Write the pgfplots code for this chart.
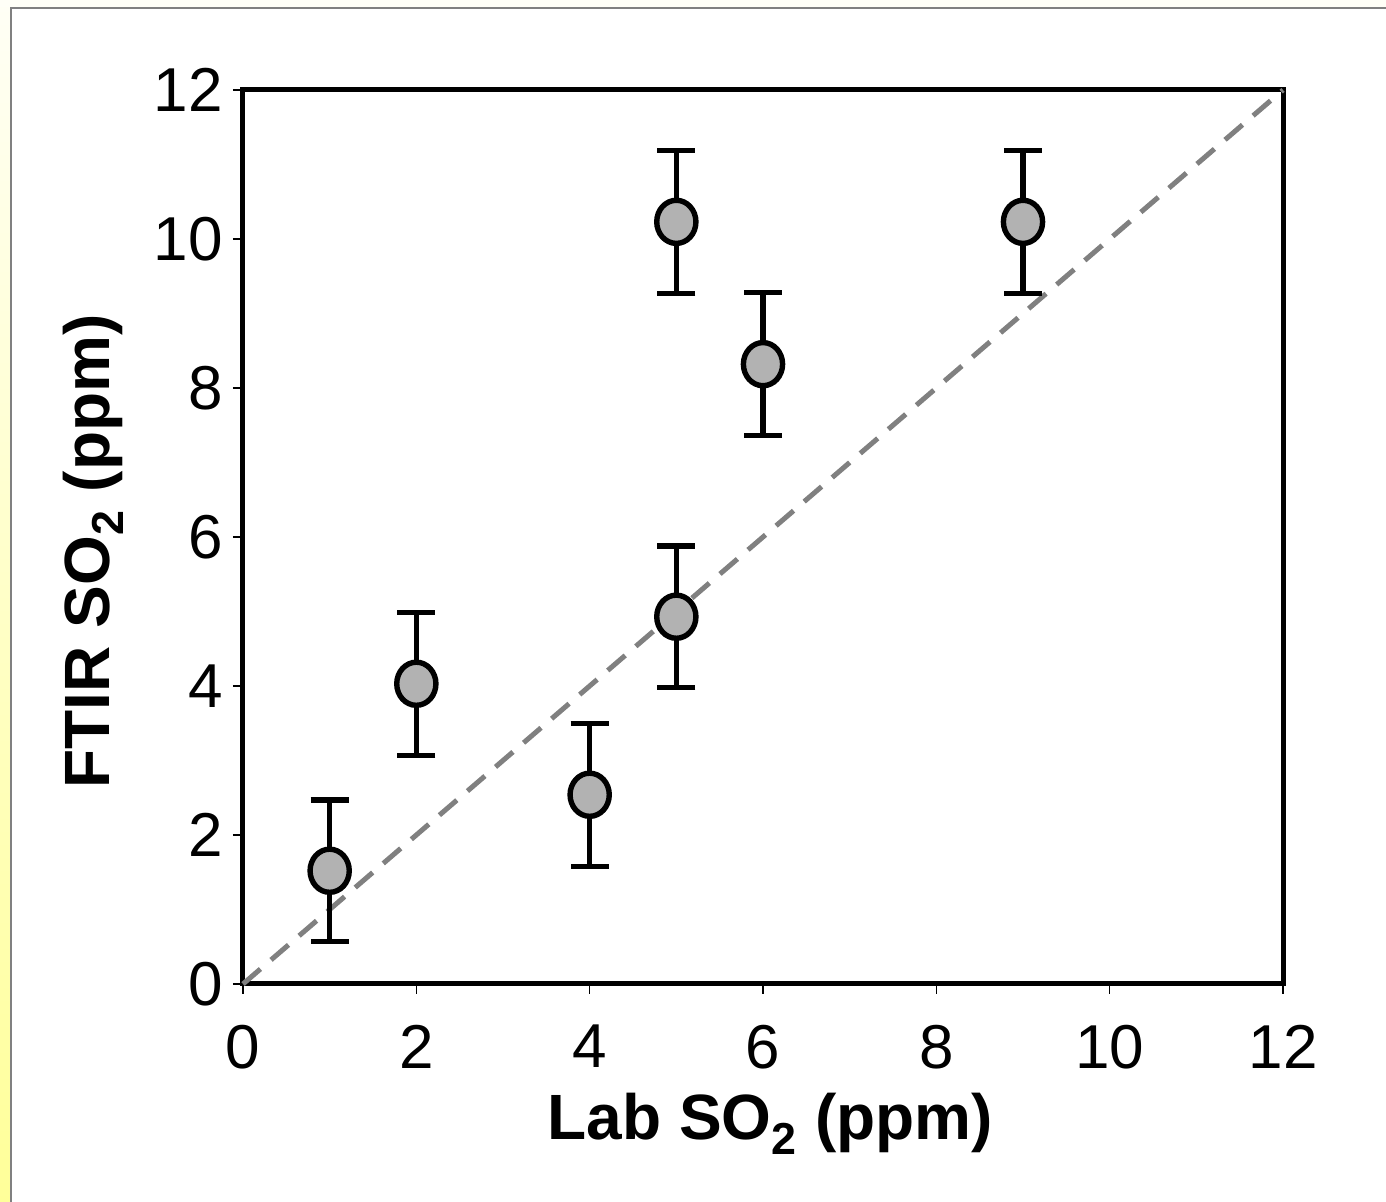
\documentclass[border=0pt]{standalone}
\usepackage{fontspec}
\setmainfont{Liberation Sans}
\usepackage{pgfplots}
\pgfplotsset{compat=1.18}
\definecolor{ptfill}{HTML}{B2B2B2}
\definecolor{diag}{HTML}{808080}
\definecolor{strip}{HTML}{FFFF99}
\begin{document}
\begin{tikzpicture}
  % slide background (1px = 0.5pt)
  \path[use as bounding box] (-121.5pt,-109pt) rectangle (571.5pt,492pt);
  \fill[white] (-121.5pt,-109pt) rectangle (571.5pt,492pt);
  \fill[color=strip!8] (-121.5pt,488pt) rectangle (571.5pt,492pt);
  \shade[top color=strip!10, bottom color=strip] (-121.5pt,-109pt) rectangle (-116.5pt,488pt);
  \draw[diag,line width=1pt] (-116pt,-109pt) -- (-116pt,488pt) -- (571.5pt,488pt);
  \begin{axis}[
      at={(0,0)}, anchor=south west,
      width=520pt, height=447pt, scale only axis,
      xmin=0, xmax=12, ymin=0, ymax=12,
      xtick={0,2,...,12}, ytick={0,2,...,12},
      axis line style={line width=2.5pt},
      tick style={line width=0.8pt, black},
      major tick length=5pt,
      tick align=outside,
      xtick pos=bottom, ytick pos=left,
      /pgf/number format/assume math mode=true,
      tick label style={font=\fontsize{31}{36}\selectfont},
      xticklabel style={yshift=-12pt},
      yticklabel style={xshift=-1.5pt},
      xlabel={\textbf{Lab SO\textsubscript{2} (ppm)}},
      ylabel={\textbf{FTIR SO\textsubscript{2} (ppm)}},
      label style={font=\fontsize{32}{38}\selectfont},
      xlabel style={at={(axis description cs:0.507,0)}, anchor=base, yshift=-78pt},
      ylabel style={at={(axis description cs:0,0.484)}, anchor=center, yshift=75pt},
      clip=false,
    ]
    \addplot[diag, line width=2.5pt, dash pattern=on 11.5pt off 7pt] coordinates {(0,0)(12,12)};
    \addplot[
        only marks, black,
        mark=*, mark size=9.8pt,
        mark options={yscale=1.1, line width=2.7pt, draw=black, fill=ptfill},
        error bars/.cd, y dir=both, y explicit,
        error bar style={line width=2.6pt, black},
        error mark options={rotate=90, mark size=9.5pt, line width=2.6pt, black},
      ] coordinates {
        (1,1.52) +- (0,0.95)
        (2,4.03) +- (0,0.96)
        (4,2.54) +- (0,0.96)
        (5,4.93) +- (0,0.95)
        (5,10.23) +- (0,0.96)
        (6,8.32) +- (0,0.96)
        (9,10.23) +- (0,0.96)
      };
  \end{axis}
\end{tikzpicture}
\end{document}
